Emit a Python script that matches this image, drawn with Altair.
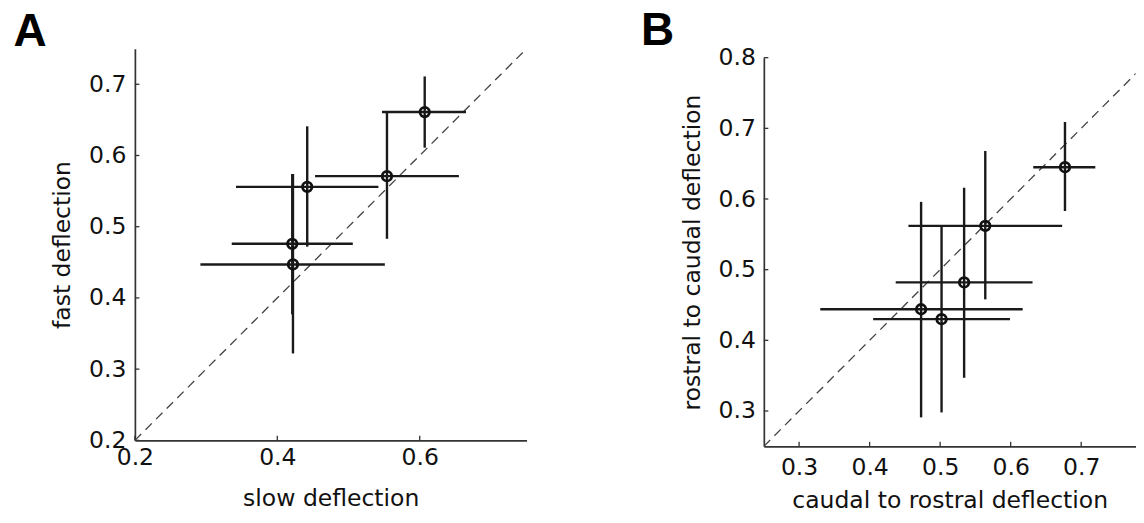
import altair as alt
import pandas as pd

# ---------------- Panel A data ----------------
a_x = [0.607, 0.554, 0.442, 0.421, 0.422]
a_x_lo = [0.547, 0.453, 0.342, 0.336, 0.292]
a_x_hi = [0.665, 0.655, 0.542, 0.506, 0.551]
a_y = [0.661, 0.571, 0.556, 0.476, 0.447]
a_y_lo = [0.611, 0.483, 0.472, 0.377, 0.322]
a_y_hi = [0.711, 0.661, 0.641, 0.574, 0.574]
a_xticks = [0.2, 0.4, 0.6]
a_yticks = [0.2, 0.3, 0.4, 0.5, 0.6, 0.7]
a_xdomain = [0.2, 0.75]
a_ydomain = [0.2, 0.75]

# ---------------- Panel B data ----------------
b_x = [0.677, 0.564, 0.534, 0.473, 0.502]
b_x_lo = [0.632, 0.455, 0.437, 0.330, 0.405]
b_x_hi = [0.720, 0.673, 0.631, 0.617, 0.599]
b_y = [0.645, 0.562, 0.482, 0.444, 0.430]
b_y_lo = [0.583, 0.458, 0.347, 0.291, 0.298]
b_y_hi = [0.709, 0.668, 0.616, 0.596, 0.563]
b_xticks = [0.3, 0.4, 0.5, 0.6, 0.7]
b_yticks = [0.3, 0.4, 0.5, 0.6, 0.7, 0.8]
b_xdomain = [0.25, 0.777]
b_ydomain = [0.25, 0.8]
b_diag = [0.25, 0.8]

FONT = "DejaVu Sans"
FS = 23.5
INK = "#1a1a1a"


def make_panel(letter, xs, xlo, xhi, ys, ylo, yhi, xticks, yticks, xdom, ydom,
               diag, xtitle, ytitle, w, h, lx, ly, xlp, ylp, xtp, ytp):
    df = pd.DataFrame({"x": xs, "xlo": xlo, "xhi": xhi,
                       "y": ys, "ylo": ylo, "yhi": yhi})
    xs_ = alt.Scale(domain=xdom, nice=False, zero=False)
    ys_ = alt.Scale(domain=ydom, nice=False, zero=False)
    common = dict(domainColor="#333333", domainWidth=1.7, ticks=False,
                  grid=False, labelFont=FONT, labelFontSize=FS, labelColor="#111111",
                  titleFont=FONT, titleFontSize=FS, titleFontWeight="normal",
                  titleColor="#111111", format=".1f", labelFlush=False,
                  labelOverlap=False)
    xaxis = alt.Axis(values=xticks, title=xtitle, labelPadding=xlp,
                     titlePadding=xtp, **common)
    yaxis = alt.Axis(values=yticks, title=ytitle, labelPadding=ylp,
                     titlePadding=ytp, **common)

    diag_df = pd.DataFrame({"d": diag})
    diag_line = alt.Chart(diag_df).mark_line(
        clip=True, strokeDash=[9, 6], color="#444444", strokeWidth=1.3
    ).encode(x=alt.X("d:Q", scale=xs_, axis=xaxis),
             y=alt.Y("d:Q", scale=ys_, axis=yaxis))

    hbars = alt.Chart(df).mark_rule(color=INK, strokeWidth=2.4).encode(
        x=alt.X("xlo:Q", scale=xs_, axis=xaxis), x2="xhi:Q",
        y=alt.Y("y:Q", scale=ys_, axis=yaxis))
    vbars = alt.Chart(df).mark_rule(color=INK, strokeWidth=2.4).encode(
        x=alt.X("x:Q", scale=xs_, axis=xaxis),
        y=alt.Y("ylo:Q", scale=ys_, axis=yaxis), y2="yhi:Q")
    pts = alt.Chart(df).mark_point(
        shape="circle", filled=False, size=90, strokeWidth=2.8, color="#111111",
        opacity=1
    ).encode(x=alt.X("x:Q", scale=xs_, axis=xaxis),
             y=alt.Y("y:Q", scale=ys_, axis=yaxis))

    xt = alt.Chart(pd.DataFrame({"t": xticks})).mark_rule(
        color="#333333", strokeWidth=1.3).encode(
        x=alt.X("t:Q", scale=xs_, axis=xaxis),
        y=alt.value(h), y2=alt.value(h - 4.5))
    yt = alt.Chart(pd.DataFrame({"t": yticks})).mark_rule(
        color="#333333", strokeWidth=1.3).encode(
        y=alt.Y("t:Q", scale=ys_, axis=yaxis),
        x=alt.value(0), x2=alt.value(4.5))

    lab = alt.Chart(pd.DataFrame({"l": [letter]})).mark_text(
        align="left", baseline="alphabetic", font="Liberation Sans",
        fontSize=46, fontWeight="bold", color="#000000"
    ).encode(text="l:N", x=alt.value(lx), y=alt.value(ly))

    return alt.layer(diag_line, hbars, vbars, pts, xt, yt, lab).properties(
        width=w, height=h)


A = make_panel("A", a_x, a_x_lo, a_x_hi, a_y, a_y_lo, a_y_hi, a_xticks, a_yticks,
               a_xdomain, a_ydomain, a_xdomain, "slow deflection", "fast deflection",
               392, 392, -121.5, -3, 5.5, 9, 17, 14)
B = make_panel("B", b_x, b_x_lo, b_x_hi, b_y, b_y_lo, b_y_hi, b_xticks, b_yticks,
               b_xdomain, b_ydomain, b_diag, "caudal to rostral deflection",
               "rostral to caudal deflection",
               372, 389, -123, -12.7, 9.5, 8.5, 9, 13.5)

spacer = alt.Chart(pd.DataFrame({"v": [0]})).mark_point(opacity=0, size=1).encode(
    x=alt.value(1), y=alt.value(1)).properties(width=372, height=8.7)

B_group = alt.vconcat(spacer, B, spacing=0, bounds="flush")

chart = alt.hconcat(A, B_group, spacing=237.5, bounds="flush").properties(
    padding={"left": 5, "top": -0.5, "right": 0, "bottom": 0},
    background="white"
).configure_view(stroke=None)

chart.save("out.html", embed_options={"renderer": "svg", "actions": False})
